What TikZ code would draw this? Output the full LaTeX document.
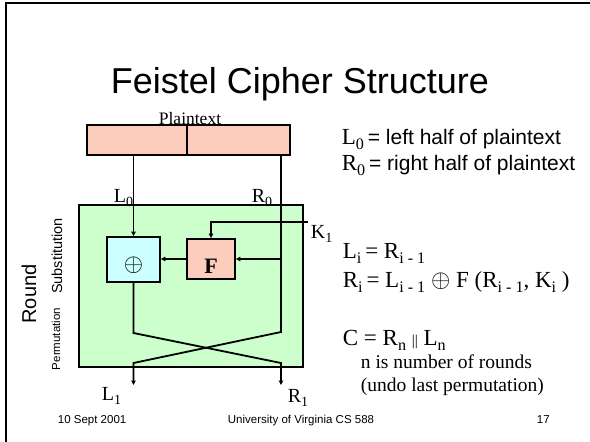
\documentclass[tikz,border=0pt]{standalone}
\usepackage{fontspec}
\setmainfont{Liberation Serif}
\setsansfont{Liberation Sans}
\usetikzlibrary{arrows.meta,positioning}

\definecolor{salmon}{RGB}{252,204,188}
\definecolor{mint}{RGB}{204,255,204}
\definecolor{ice}{RGB}{204,255,255}

% font size in pt, and a lowered small index
\newcommand\setsz[1]{\fontsize{#1}{#1}\selectfont}
\newcommand\sub[1]{\raisebox{-0.24em}{\scalebox{0.7}{#1}}}

\begin{document}
\begin{tikzpicture}[x=1pt,y=-1pt,line width=1.8pt,
    >={Triangle[length=4.5pt,width=4.5pt]},
    half/.style={draw,fill=salmon,minimum height=30pt,inner sep=0pt},
    roundbox/.style={draw,fill=mint,minimum width=224pt,minimum height=162pt},
    xorbox/.style={draw,fill=ice,minimum width=53pt,minimum height=45pt,inner sep=0pt},
    fbox/.style={draw,fill=salmon,minimum width=48pt,minimum height=40pt,inner sep=0pt},
    wire/.style={anchor=base west,inner sep=0pt,font=\setsz{20}},
    eqn/.style={anchor=base west,inner sep=0pt,font=\setsz{23}},
    note/.style={anchor=base west,inner sep=0pt,font=\setsz{19.5}},
    side/.style={rotate=90,inner sep=0pt,font=\sffamily}]
  \useasboundingbox (0,0) rectangle (590,442);

  % slide frame
  \draw[line width=2pt] (6,442) -- (6,3) -- (590,3);

  \node[anchor=base,font=\sffamily\setsz{36}] (title) at (300,93) {Feistel Cipher Structure};

  % plaintext block split in two halves
  \node[half,minimum width=100pt] (pl) at (137,140) {};
  \node[half,minimum width=103pt,right=-1.8pt of pl] (pr) {};
  \node[anchor=base,inner sep=0pt,font=\setsz{17.5}] (ptext) at (190,124) {Plaintext};

  % one round
  \node[roundbox] (rnd) at (191,286) {};
  \node[xorbox] (xor) at (133.5,259.5) {};
  \node[inner sep=0pt,font=\setsz{26}] (xorsym) at ([yshift=-6pt]xor.center) {$\oplus$};
  \node[fbox] (fbox) at (211,259) {};
  \node[inner sep=0pt,font=\bfseries\setsz{22}] (fsym) at ([yshift=-7pt]fbox.center) {F};

  \coordinate (rtop) at (281,155);
  \coordinate (rtap) at (281,259);
  \coordinate (rbend) at (281,332);
  \coordinate (lbend) at (133.5,333);
  \coordinate (lcross) at (133.5,363);
  \coordinate (rcross) at (281,363);
  \coordinate (lout) at (133.5,385);
  \coordinate (rout) at (281,385);
  \coordinate (kin) at (308,222);

  % wires
  \draw[->] (pl.south -| xor.north) -- (xor.north);
  \draw[->] (rtop) -- (rbend) -- (lcross) -- (lout);
  \draw[->] (xor.south) -- (lbend) -- (rcross) -- (rout);
  \draw[->] (rtap) -- (fbox.east);
  \draw[->] (fbox.west) -- (fbox.west -| xor.east);
  \draw[->] (kin) -| (fbox.north);

  % wire labels
  \node[wire] (lzero) at (113,202) {L\sub{0}};
  \node[wire] (rzero) at (251,202) {R\sub{0}};
  \node[wire] (kone) at (310,238) {K\sub{1}};
  \node[wire] (lone) at (101,400) {L\sub{1}};
  \node[wire] (rone) at (287,402) {R\sub{1}};

  % side captions
  \node[side,font=\sffamily\setsz{20}] (roundcap) at (29,294) {Round};
  \node[side,font=\sffamily\setsz{14.5}] (subcap) at (57,256) {Substitution};
  \node[side,font=\sffamily\setsz{11.5}] (permcap) at (56,339) {Permutation};

  % definitions on the right
  \node[eqn] (ldef) at (341,144) {L\sub{0}\,{\sffamily\setsz{21}= left half of plaintext}};
  \node[eqn] (rdef) at (341,170) {R\sub{0}\,{\sffamily\setsz{21}= right half of plaintext}};
  \node[eqn] (lrule) at (342,258) {L\sub{i}\,= R\sub{i - 1}};
  \node[eqn] (rrule) at (342,287) {R\sub{i}\,= L\sub{i - 1} $\oplus$ F (R\sub{i - 1}, K\sub{i} )};
  \node[eqn] (cdef) at (342,345) {C = R\sub{n} {\setsz{15}\textbar\textbar} L\sub{n}};
  \node[note] (nrounds) at (360,368) {n is number of rounds};
  \node[note] (undo) at (360,391) {(undo last permutation)};

  % footer
  \node[anchor=base west,inner sep=0pt,font=\sffamily\setsz{11.5}] (date) at (57,423) {10 Sept 2001};
  \node[anchor=base,inner sep=0pt,font=\sffamily\setsz{11.5}] (course) at (301,423) {University of Virginia CS 588};
  \node[anchor=base west,inner sep=0pt,font=\sffamily\setsz{11.5}] (page) at (536,423) {17};
\end{tikzpicture}
\end{document}
